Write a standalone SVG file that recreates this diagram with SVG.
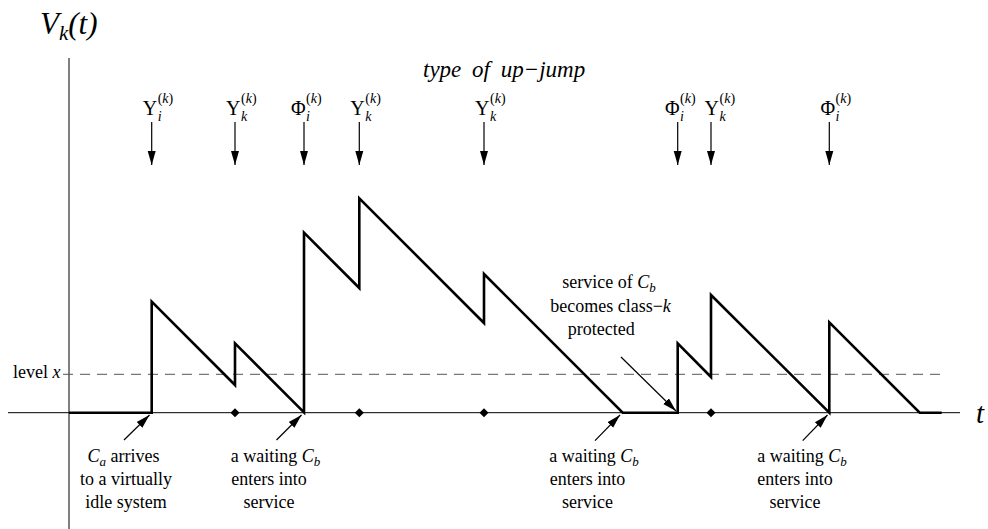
<svg xmlns="http://www.w3.org/2000/svg" width="988" height="529" viewBox="0 0 988 529" font-family="'Liberation Serif', 'DejaVu Serif', serif">
<style>
text{font-family:"Liberation Serif","DejaVu Serif",serif;fill:#000}
.lbl{font-size:18px}
.it{font-style:italic}
.sym{font-size:20px}
.sup{font-size:14px}
.axis{stroke:#000;stroke-width:1;fill:none}
.thin{stroke:#000;stroke-width:1.2;fill:none}
.curve{stroke:#000;stroke-width:2.6;fill:none;stroke-linejoin:miter}
.dash{stroke:#555;stroke-width:1;stroke-dasharray:10 7;fill:none}
</style>
<defs>
<marker id="ah" markerUnits="userSpaceOnUse" markerWidth="16" markerHeight="10" refX="14" refY="5" orient="auto">
<path d="M0,1 L14,5 L0,9 Z" fill="#000"/>
</marker>
</defs>
<rect width="988" height="529" fill="#fff"/>
<g id="axes">
<line class="axis" x1="69" y1="58" x2="69" y2="529"/>
<line class="axis" x1="8" y1="412.7" x2="960" y2="412.7"/>
<line class="dash" x1="63" y1="374.3" x2="941" y2="374.3"/>
<text x="40" y="34" font-size="31" class="it">V<tspan font-size="21" dy="6">k</tspan><tspan dy="-6">(t)</tspan></text>
<text x="976" y="423" font-size="29" class="it">t</text>
<text x="13" y="378.3" class="lbl">level <tspan class="it">x</tspan></text>
</g>
<g id="title">
<text x="423" y="77" font-size="23" class="it" word-spacing="5">type of up−jump</text>
</g>
<g id="curve">
<polyline class="curve" points="69,412.7 151.7,412.7 151.7,301.7 235,385 235,343.3 304,412.3 304,232.7 359.3,288 359.3,198.3 484,323 484,274 622.7,412.7 677.7,412.7 677.7,343.3 711,377 711,295 829.3,412.7 829.3,322.3 919.7,412.7 941.7,412.7"/>
</g>
<g id="diamonds" fill="#000">
<path d="M230.5,412.7 L235,408.2 L239.5,412.7 L235,417.2 Z"/>
<path d="M354.8,412.7 L359.3,408.2 L363.8,412.7 L359.3,417.2 Z"/>
<path d="M479.5,412.7 L484,408.2 L488.5,412.7 L484,417.2 Z"/>
<path d="M706.5,412.7 L711,408.2 L715.5,412.7 L711,417.2 Z"/>
</g>
<g id="connectors">
<line class="thin" x1="151.7" y1="122" x2="151.7" y2="165" marker-end="url(#ah)"/>
<line class="thin" x1="235" y1="122" x2="235" y2="165" marker-end="url(#ah)"/>
<line class="thin" x1="304" y1="122" x2="304" y2="165" marker-end="url(#ah)"/>
<line class="thin" x1="359.3" y1="122" x2="359.3" y2="165" marker-end="url(#ah)"/>
<line class="thin" x1="484" y1="122" x2="484" y2="165" marker-end="url(#ah)"/>
<line class="thin" x1="677.7" y1="122" x2="677.7" y2="165" marker-end="url(#ah)"/>
<line class="thin" x1="711" y1="122" x2="711" y2="165" marker-end="url(#ah)"/>
<line class="thin" x1="829.3" y1="122" x2="829.3" y2="165" marker-end="url(#ah)"/>
<line class="thin" x1="124" y1="440" x2="149.5" y2="415" marker-end="url(#ah)"/>
<line class="thin" x1="276.5" y1="440" x2="301.5" y2="415" marker-end="url(#ah)"/>
<line class="thin" x1="595" y1="440.7" x2="620" y2="415" marker-end="url(#ah)"/>
<line class="thin" x1="802.7" y1="440.7" x2="827.5" y2="415" marker-end="url(#ah)"/>
<line class="thin" x1="621" y1="357" x2="676" y2="411" marker-end="url(#ah)"/>
</g>
<g id="jump-labels">
<g id="j1"><text x="142.7" y="115" class="sym">Υ</text><text x="157.7" y="103" class="sup">(<tspan class="it">k</tspan>)</text><text x="157.7" y="121" class="sup it">i</text></g>
<g id="j2"><text x="226" y="115" class="sym">Υ</text><text x="241" y="103" class="sup">(<tspan class="it">k</tspan>)</text><text x="241" y="121" class="sup it">k</text></g>
<g id="j3"><text x="291" y="115" class="sym">Φ</text><text x="306" y="103" class="sup">(<tspan class="it">k</tspan>)</text><text x="306" y="121" class="sup it">i</text></g>
<g id="j4"><text x="350.3" y="115" class="sym">Υ</text><text x="365.3" y="103" class="sup">(<tspan class="it">k</tspan>)</text><text x="365.3" y="121" class="sup it">k</text></g>
<g id="j5"><text x="475" y="115" class="sym">Υ</text><text x="490" y="103" class="sup">(<tspan class="it">k</tspan>)</text><text x="490" y="121" class="sup it">k</text></g>
<g id="j6"><text x="665" y="115" class="sym">Φ</text><text x="680" y="103" class="sup">(<tspan class="it">k</tspan>)</text><text x="680" y="121" class="sup it">i</text></g>
<g id="j7"><text x="704.5" y="115" class="sym">Υ</text><text x="719.5" y="103" class="sup">(<tspan class="it">k</tspan>)</text><text x="719.5" y="121" class="sup it">k</text></g>
<g id="j8"><text x="820.5" y="115" class="sym">Φ</text><text x="835.5" y="103" class="sup">(<tspan class="it">k</tspan>)</text><text x="835.5" y="121" class="sup it">i</text></g>
</g>
<g id="note-a" class="lbl" text-anchor="middle">
<text x="123.5" y="461.7"><tspan class="it">C</tspan><tspan class="it" font-size="13" dy="4">a</tspan><tspan dy="-4"> arrives</tspan></text>
<text x="126" y="485">to a virtually</text>
<text x="126" y="507.7">idle system</text>
</g>
<g id="note-b1" class="lbl" text-anchor="middle">
<text x="275.5" y="461.7">a waiting <tspan class="it">C</tspan><tspan class="it" font-size="13" dy="4">b</tspan></text>
<text x="269" y="485">enters into</text>
<text x="269" y="507.7">service</text>
</g>
<g id="note-b2" class="lbl" text-anchor="middle">
<text x="594" y="461.7">a waiting <tspan class="it">C</tspan><tspan class="it" font-size="13" dy="4">b</tspan></text>
<text x="587.5" y="485">enters into</text>
<text x="587.5" y="507.7">service</text>
</g>
<g id="note-b3" class="lbl" text-anchor="middle">
<text x="802" y="461.7">a waiting <tspan class="it">C</tspan><tspan class="it" font-size="13" dy="4">b</tspan></text>
<text x="795" y="485">enters into</text>
<text x="795" y="507.7">service</text>
</g>
<g id="note-protect" class="lbl" text-anchor="middle">
<text x="609" y="288.3">service of <tspan class="it">C</tspan><tspan class="it" font-size="13" dy="4">b</tspan></text>
<text x="610.5" y="311.7">becomes class−<tspan class="it">k</tspan></text>
<text x="601.3" y="334.5">protected</text>
</g>
</svg>
